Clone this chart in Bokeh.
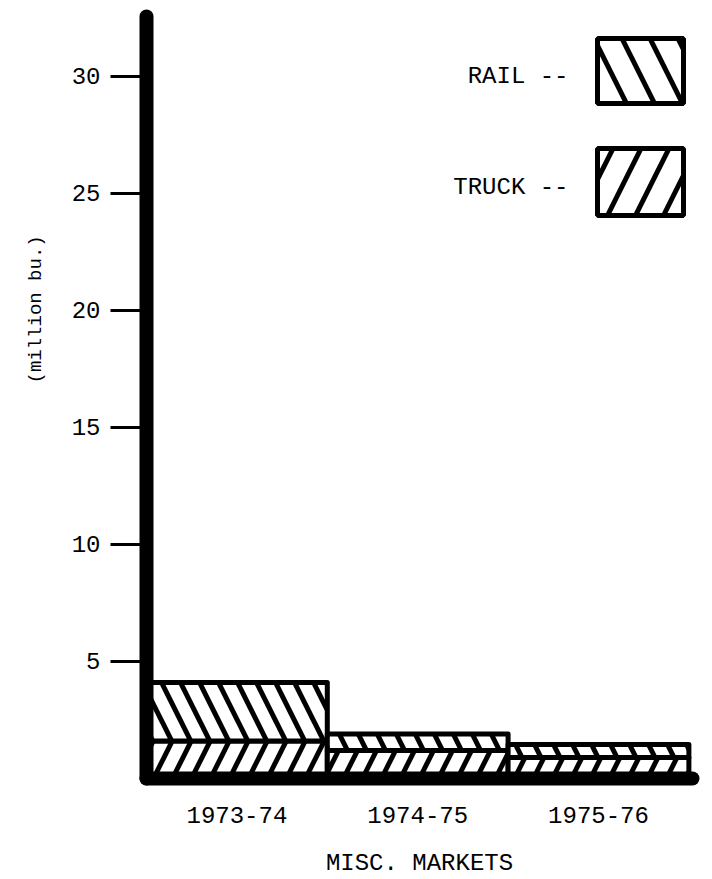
from bokeh.plotting import figure
from bokeh.models import (ColumnDataSource, Range1d, FixedTicker, BoxAnnotation, Label, Title)
from bokeh.embed import file_html
from bokeh.resources import INLINE

# ---- data (million bushels) ----
years = ["1973-74", "1974-75", "1975-76"]
truck = [1.6, 1.2, 0.9]
rail = [2.5, 0.7, 0.55]
y_ticks = [5, 10, 15, 20, 25, 30]

xs = [i + 0.5 for i in range(len(years))]
totals = [t + r for t, r in zip(truck, rail)]
src = ColumnDataSource(dict(x=xs, truck=truck, rail_top=totals, zero=[0] * len(xs)))

FONT = "Liberation Mono"

p = figure(width=704, height=879, x_range=Range1d(0, 3.02), y_range=Range1d(0, 32.55),
           output_backend="svg", toolbar_location=None,
           min_border_left=146, min_border_right=12, min_border_top=16, min_border_bottom=99)
p.outline_line_color = None
p.xgrid.visible = False
p.ygrid.visible = False
p.background_fill_color = "white"
p.border_fill_color = "white"

# truck (bottom) segment
p.vbar(x="x", bottom="zero", top="truck", width=1.0, source=src,
       fill_color="white", line_color="black", line_width=5, line_join="round",
       hatch_pattern="/", hatch_color="black", hatch_scale=38, hatch_weight=5)
# rail (top) segment
p.vbar(x="x", bottom="truck", top="rail_top", width=1.0, source=src,
       fill_color="white", line_color="black", line_width=5, line_join="round",
       hatch_pattern="\\", hatch_color="black", hatch_scale=38, hatch_weight=5)

# ---- axes ----
ya = p.yaxis[0]
ya.ticker = FixedTicker(ticks=y_ticks)
ya.axis_line_width = 14
ya.axis_line_cap = "round"
ya.major_tick_out = 36
ya.major_tick_in = 0
ya.major_tick_line_width = 3
ya.minor_tick_line_color = None
ya.major_label_standoff = 10
ya.major_label_text_font = FONT
ya.major_label_text_font_size = "24px"
ya.major_label_text_color = "black"

xa = p.xaxis[0]
xa.ticker = FixedTicker(ticks=xs)
xa.major_label_overrides = {x: y for x, y in zip(xs, years)}
xa.axis_line_width = 14
xa.axis_line_cap = "round"
xa.major_tick_line_color = None
xa.minor_tick_line_color = None
xa.major_tick_out = 0
xa.major_tick_in = 0
xa.major_label_standoff = 28
xa.major_label_text_font = FONT
xa.major_label_text_font_size = "24px"
xa.major_label_text_color = "black"
xa.axis_label = "MISC. MARKETS"
xa.axis_label_standoff = 24
xa.axis_label_text_font = FONT
xa.axis_label_text_font_size = "24px"
xa.axis_label_text_font_style = "normal"
xa.axis_label_text_color = "black"

# y axis title
p.add_layout(Title(text="(million bu.)", align="left", offset=395, standoff=43,
                   text_font=FONT, text_font_size="19px", text_font_style="normal",
                   text_color="black"), "left")

# ---- legend ----
legend_items = [("RAIL --", "\\", 38, 103), ("TRUCK --", "/", 148, 215)]
for name, pat, top, bottom in legend_items:
    p.add_layout(BoxAnnotation(left=597, right=683, top=top, bottom=bottom,
                               left_units="canvas", right_units="canvas",
                               top_units="canvas", bottom_units="canvas",
                               fill_color="white", fill_alpha=1.0,
                               line_color="black", line_width=5, line_alpha=1.0,
                               hatch_pattern=pat, hatch_color="black",
                               hatch_scale=56, hatch_weight=5, level="overlay"))
    p.add_layout(Label(x=568, y=(top + bottom) / 2 + 5, x_units="canvas", y_units="canvas",
                       text=name, text_align="right", text_baseline="middle",
                       text_font=FONT, text_font_size="24px", text_color="black"))

open("out.html", "w").write(file_html(p, INLINE))
